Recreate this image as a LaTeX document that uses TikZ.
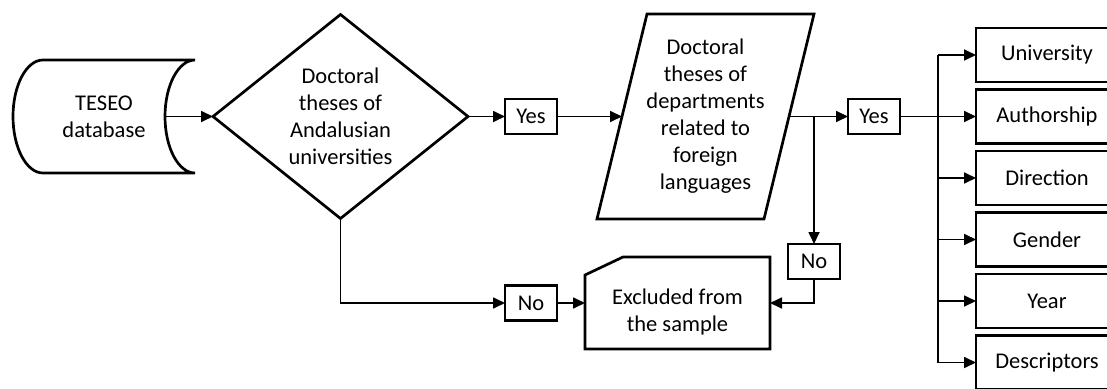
\documentclass[tikz,border=0pt]{standalone}
\usepackage{fontspec}
\setmainfont{Carlito}
\usetikzlibrary{arrows.meta,positioning,calc,shapes.geometric}

\begin{document}
\begin{tikzpicture}[
    x=1pt, y=1pt,
    font=\fontsize{22.5}{27}\selectfont,
    >={Triangle[length=12pt,width=11pt]},
    % common styles
    border/.style={line width=2.7pt},
    plain/.style={rectangle, inner sep=0pt, outer sep=0pt, align=center},
    decision/.style={draw, diamond, border, aspect=1.25, minimum width=255pt, minimum height=204pt, inner sep=0pt, outer sep=0pt, align=center},
    answer/.style={draw, rectangle, border, minimum width=52pt, minimum height=35pt, inner sep=0pt, outer sep=0pt},
    field/.style={draw, rectangle, border, minimum width=142pt, minimum height=54pt, inner sep=0pt, outer sep=0pt},
    line/.style={draw, ->, line width=1.7pt}
]

    \useasboundingbox (0,0) rectangle (1107,-388);
    \clip (0,0) rectangle (1107,-388);

    % --- 1. Nodes ---

    % TESEO database (stored data)
    \node[plain, minimum width=182pt, minimum height=113pt] (teseo) at (104,-116.5) {TESEO\\database};
    \draw[border] (teseo.north east) -- ++(-152,0)
        arc[start angle=90, end angle=270, x radius=30, y radius=56.5] -- (teseo.south east)
        arc[start angle=270, end angle=90, x radius=30, y radius=56.5];
    \coordinate (teseo out) at ($(teseo.east)+(-30,0)$);

    % first question
    \node[decision, right=18pt of teseo] (andalusia) {Doctoral\\theses of\\Andalusian\\universities};

    \node[answer, right=37pt of andalusia] (yes1) {Yes};

    % parallelogram (data)
    \node[plain, minimum width=167pt, minimum height=205pt, right=65pt of yes1] (languages) {Doctoral\\theses of\\departments\\related to\\foreign\\languages};
    \draw[border] ($(languages.north west)+(25,0)$) -- ($(languages.north east)+(25,0)$)
        -- ($(languages.south east)+(-25,0)$) -- ($(languages.south west)+(-25,0)$) -- cycle;

    \node[answer, right=59pt of languages] (yes2) {Yes};
    \coordinate (split) at ($(languages.east)+(25,0)$);
    \node[answer, below=127.5pt of split] (no2) {No};

    % excluded (card shape), text sits a bit low
    \node[plain, minimum width=185pt, minimum height=92pt, below=38pt of languages, xshift=-28pt] (excluded) {\rule{0pt}{33pt}Excluded from\\the sample};
    \draw[border] ($(excluded.north west)+(0,-18)$) -- ($(excluded.north west)+(38,0)$)
        -- (excluded.north east) -- (excluded.south east) -- (excluded.south west) -- cycle;

    \node[answer, left=28pt of excluded] (no1) {No};

    % variables
    \node[field] (university) at (1047,-55) {University};
    \node[field, below=7.5pt of university] (authorship) {Authorship};
    \node[field, below=7.5pt of authorship] (direction) {Direction};
    \node[field, below=7.5pt of direction] (gender) {Gender};
    \node[field, below=7.5pt of gender] (year) {Year};
    \node[field, below=7.5pt of year] (descriptors) {Descriptors};
    \coordinate (trunk) at ($(yes2.east)+(38,0)$);

    % --- 2. Paths ---

    \draw[line] (teseo out) -- (andalusia.west);
    \draw[line] (andalusia.east) -- (yes1.west);
    \draw[line] (yes1.east) -- (languages.west);
    \draw[line] (languages.east) -- (yes2.west);
    \draw[line] (split) -- (no2.north);
    \draw[line] (no2.south) |- (excluded.east);
    \draw[line] (andalusia.south) |- (no1.west);
    \draw[line] (no1.east) -- (excluded.west);

    % Yes -> variables
    \draw[line width=1.7pt] (trunk |- university.west) -- (trunk |- descriptors.west);
    \draw[line] (yes2.east) -- (authorship.west);
    \draw[line] (trunk |- university.west) -- (university.west);
    \draw[line] (trunk |- direction.west) -- (direction.west);
    \draw[line] (trunk |- gender.west) -- (gender.west);
    \draw[line] (trunk |- year.west) -- (year.west);
    \draw[line] (trunk |- descriptors.west) -- (descriptors.west);

\end{tikzpicture}
\end{document}
